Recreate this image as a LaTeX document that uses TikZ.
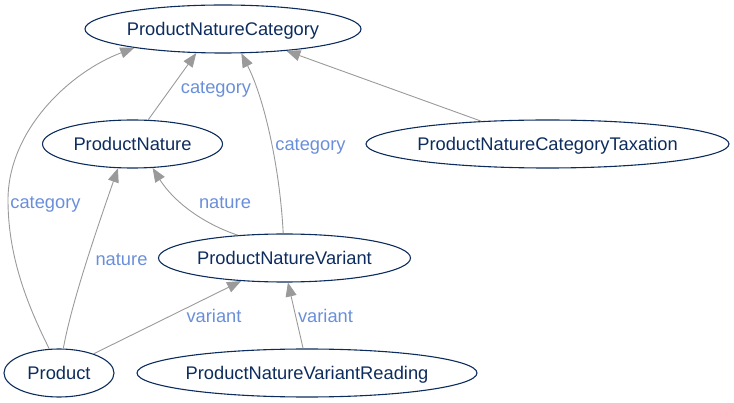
\documentclass[tikz,border=0pt]{standalone}
\usepackage{fontspec}
\setmainfont{Liberation Sans}
\usetikzlibrary{shapes.geometric,arrows.meta}
\definecolor{navy}{HTML}{0D2C5E}
\definecolor{lbl}{HTML}{6A8FDA}
\definecolor{edgegray}{HTML}{9A9A9A}
\newcommand\zb[1]{\makebox[0pt]{#1}}
\begin{document}
\begin{tikzpicture}[x=1pt,y=-1pt,
  ent/.style={ellipse,draw=navy,line width=1.1pt,text=navy,inner sep=0pt,
    minimum height=48pt,font=\fontsize{18.3}{20}\selectfont,text height=15pt,text depth=2pt},
  lab/.style={text=lbl,inner sep=0pt,font=\fontsize{18.3}{20}\selectfont,text height=15pt,text depth=2pt},
  rel/.style={draw=edgegray,line width=0.9pt,-{Triangle[length=14pt,width=11pt]}}]
\useasboundingbox (0,0) rectangle (734,403);
\node[ent,minimum width=276pt] (PNC) at (223,29) {\zb{ProductNatureCategory}};
\node[ent,minimum width=180pt] (PN) at (132.5,144) {\zb{ProductNature}};
\node[ent,minimum width=363pt] (PNCT) at (547.5,144) {\zb{ProductNatureCategoryTaxation}};
\node[ent,minimum width=252pt] (PNV) at (284.5,258) {\zb{ProductNatureVariant}};
\node[ent,minimum width=110pt] (P) at (59,373) {\zb{Product}};
\node[ent,minimum width=340pt] (PNVR) at (307,373) {\zb{ProductNatureVariantReading}};

\draw[rel] (P.112) .. controls (30,310) and (8,260) .. (8,200) .. controls (8,130) and (70,72) .. (PNC.192);
\draw[rel] (P.80) .. controls (72,300) and (100,220) .. (PN.239);
\draw[rel] (P.29) -- (PNV.208);
\draw[rel] (PNVR.99) -- (PNV.278);
\draw[rel] (PNV.154) .. controls (201.5,223) and (173,200.7) .. (PN.310);
\draw[rel] (PNV.93) .. controls (280,170) and (265,100) .. (PNC.307);
\draw[rel] (PN.57) -- (PNC.222);
\draw[rel] (PNCT.161) -- (PNC.341);

\node[lab] (l1) at (45.5,202) {category};
\node[lab] (l2) at (121.5,259) {nature};
\node[lab] (l3) at (214,316) {variant};
\node[lab] (l4) at (325.5,316) {variant};
\node[lab] (l5) at (225,202) {nature};
\node[lab] (l6) at (310.5,144) {category};
\node[lab] (l7) at (216,87) {category};
\end{tikzpicture}
\end{document}
